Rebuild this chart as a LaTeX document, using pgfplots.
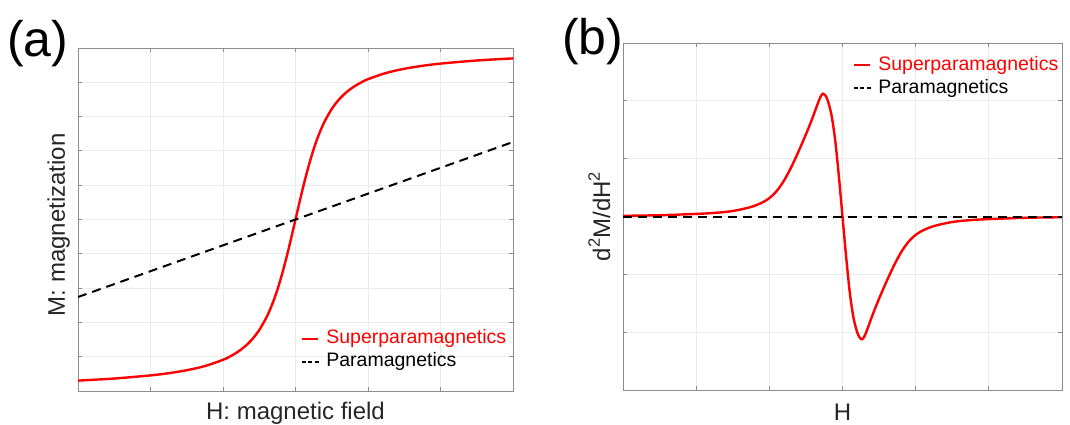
\documentclass[border=0pt]{standalone}
\usepackage{fontspec}
\setmainfont{Liberation Sans}
\usepackage{pgfplots}
\pgfplotsset{compat=1.18}

\definecolor{txt}{HTML}{262626}
\definecolor{gridc}{HTML}{EBEBEB}
\definecolor{boxc}{HTML}{8C8C8C}
\definecolor{spm}{HTML}{FF0000}

\pgfplotsset{
  panel/.style={
    scale only axis,
    xmin=-3, xmax=3,
    xtick={-3,...,3},
    xticklabels={}, yticklabels={},
    grid=major,
    major grid style={gridc, line width=0.8pt},
    axis line style={boxc, line width=0.8pt},
    tick style={boxc, line width=0.8pt},
    major tick length=4pt,
    tick align=inside,
    label style={font=\fontsize{24}{28}\selectfont, text=txt},
    legend style={draw=none, fill=none, font=\fontsize{19.5}{22}\selectfont,
      inner sep=0pt, row sep=5pt, column sep=7pt,
      nodes={inner sep=0pt, text height=14pt, text depth=4pt}},
    legend cell align=left,
  },
  superpara/.style={spm, line width=2.4pt, smooth,
    legend image code/.code={\draw[spm, line width=1.8pt] (0pt,0pt) -- (16pt,0pt);}},
  para/.style={black, line width=2pt, dash pattern=on 9pt off 6pt,
    legend image code/.code={\draw[black, line width=1.6pt, dash pattern=on 4pt off 2.6pt] (0pt,0pt) -- (17pt,0pt);}},
}

\begin{document}
\begin{tikzpicture}
\path[use as bounding box] (0,0) rectangle (1070pt,424pt);

% (a) magnetization curves
\begin{axis}[panel,
  at={(78pt,33pt)}, anchor=south west,
  width=435pt, height=343pt,
  ymin=-5, ymax=5, ytick={-5,...,5},
  xlabel={H: magnetic field},
  ylabel={M: magnetization},
  xlabel style={at={(axis description cs:0.5,-0.0845)}, anchor=base},
  ylabel style={at={(axis description cs:-0.0299,0.485)}, anchor=base},
  legend style={at={(axis description cs:0.985,0.058)}, anchor=south east},
]
\addplot[superpara] coordinates {
  (-3,-4.697) (-2.5,-4.636) (-2,-4.545) (-1.75,-4.481) (-1.5,-4.394)
  (-1.25,-4.273) (-1,-4.091) (-0.9,-3.990) (-0.8,-3.865) (-0.7,-3.706)
  (-0.6,-3.498) (-0.5,-3.223) (-0.4,-2.852) (-0.35,-2.620) (-0.3,-2.353)
  (-0.25,-2.047) (-0.2,-1.701) (-0.15,-1.316) (-0.1,-0.899) (-0.05,-0.456)
  (0,0)
  (0.05,0.456) (0.1,0.899) (0.15,1.316) (0.2,1.701) (0.25,2.047)
  (0.3,2.353) (0.35,2.620) (0.4,2.852) (0.5,3.223) (0.6,3.498)
  (0.7,3.706) (0.8,3.865) (0.9,3.990) (1,4.091) (1.25,4.273)
  (1.5,4.394) (1.75,4.481) (2,4.545) (2.5,4.636) (3,4.697)
};
\addlegendentry{\textcolor{spm}{Superparamagnetics}}
\addplot[para] coordinates {(-3,-2.26) (3,2.26)};
\addlegendentry{\textcolor{black}{Paramagnetics}}
\end{axis}

% (b) second derivative
\begin{axis}[panel,
  at={(623pt,34pt)}, anchor=south west,
  width=439pt, height=347pt,
  ymin=-3, ymax=3, ytick={-3,...,3},
  xlabel={H},
  ylabel={d{\raisebox{0.42em}{\fontsize{16.5}{16.5}\selectfont 2}}M/dH{\raisebox{0.42em}{\fontsize{16.5}{16.5}\selectfont 2}}},
  xlabel style={at={(axis description cs:0.5,-0.0865)}, anchor=base},
  ylabel style={at={(axis description cs:-0.0296,0.5)}, anchor=base},
  legend style={at={(axis description cs:0.992,0.9625)}, anchor=north east},
]
\addplot[superpara] coordinates {
  (-3,0.012) (-2.5,0.022) (-2,0.045) (-1.75,0.062) (-1.5,0.095)
  (-1.25,0.165) (-1.1,0.24) (-1,0.3175) (-0.9,0.44) (-0.8,0.62)
  (-0.7,0.855) (-0.6,1.1275) (-0.5,1.42) (-0.45,1.575) (-0.4,1.74)
  (-0.35,1.9125) (-0.32,2.013) (-0.3,2.071) (-0.28,2.112) (-0.265,2.123)
  (-0.25,2.115) (-0.23,2.085) (-0.2,2.00) (-0.15,1.75) (-0.1,1.32)
  (-0.05,0.70) (0,0)
  (0.05,-0.70) (0.1,-1.32) (0.15,-1.75) (0.2,-2.00) (0.23,-2.085)
  (0.25,-2.115) (0.265,-2.123) (0.28,-2.112) (0.3,-2.071) (0.32,-2.013)
  (0.35,-1.9125) (0.4,-1.74) (0.45,-1.575) (0.5,-1.42) (0.6,-1.1275)
  (0.7,-0.855) (0.8,-0.62) (0.9,-0.44) (1,-0.3175) (1.1,-0.24)
  (1.25,-0.165) (1.5,-0.095) (1.75,-0.062) (2,-0.045) (2.5,-0.022)
  (3,-0.012)
};
\addlegendentry{\textcolor{spm}{Superparamagnetics}}
\addplot[para] coordinates {(-3,0) (3,0)};
\addlegendentry{\textcolor{black}{Paramagnetics}}
\end{axis}

\node[anchor=base west, inner sep=0pt, font=\fontsize{50}{60}\selectfont] at (7pt,367pt) {(a)};
\node[anchor=base west, inner sep=0pt, font=\fontsize{50}{60}\selectfont] at (562pt,369pt) {(b)};
\end{tikzpicture}
\end{document}
